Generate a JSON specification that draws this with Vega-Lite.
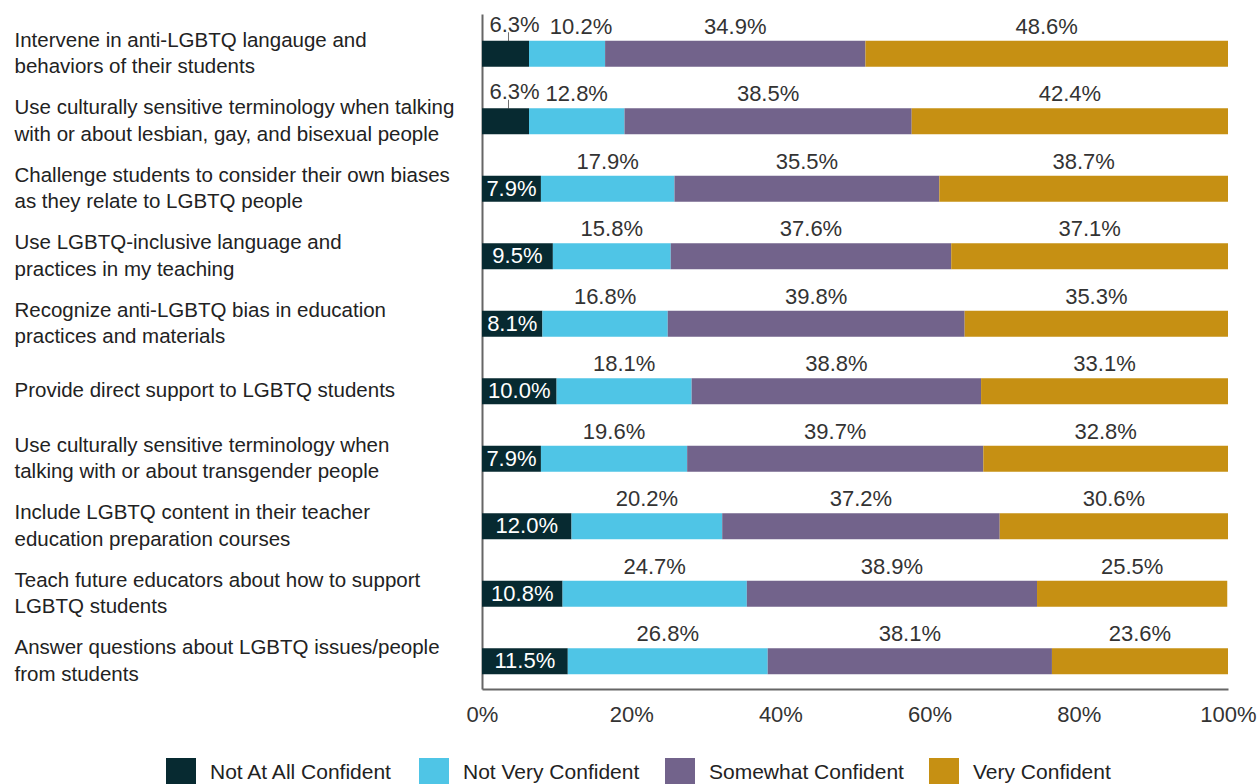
{
  "$schema": "https://vega.github.io/schema/vega-lite/v6.json",
  "width": 746,
  "height": 675,
  "autosize": {"type": "none"},
  "padding": {"left": 482, "top": 14, "right": 29, "bottom": 95},
  "background": "white",
  "config": {"view": {"stroke": null}, "font": "Liberation Sans"},
  "data": {"values": [
    {"item": "Intervene in anti-LGBTQ langauge and|behaviors of their students", "cat": "Not At All Confident", "value": 6.3},
    {"item": "Intervene in anti-LGBTQ langauge and|behaviors of their students", "cat": "Not Very Confident", "value": 10.2},
    {"item": "Intervene in anti-LGBTQ langauge and|behaviors of their students", "cat": "Somewhat Confident", "value": 34.9},
    {"item": "Intervene in anti-LGBTQ langauge and|behaviors of their students", "cat": "Very Confident", "value": 48.6},
    {"item": "Use culturally sensitive terminology when talking|with or about lesbian, gay, and bisexual people", "cat": "Not At All Confident", "value": 6.3},
    {"item": "Use culturally sensitive terminology when talking|with or about lesbian, gay, and bisexual people", "cat": "Not Very Confident", "value": 12.8},
    {"item": "Use culturally sensitive terminology when talking|with or about lesbian, gay, and bisexual people", "cat": "Somewhat Confident", "value": 38.5},
    {"item": "Use culturally sensitive terminology when talking|with or about lesbian, gay, and bisexual people", "cat": "Very Confident", "value": 42.4},
    {"item": "Challenge students to consider their own biases|as they relate to LGBTQ people", "cat": "Not At All Confident", "value": 7.9},
    {"item": "Challenge students to consider their own biases|as they relate to LGBTQ people", "cat": "Not Very Confident", "value": 17.9},
    {"item": "Challenge students to consider their own biases|as they relate to LGBTQ people", "cat": "Somewhat Confident", "value": 35.5},
    {"item": "Challenge students to consider their own biases|as they relate to LGBTQ people", "cat": "Very Confident", "value": 38.7},
    {"item": "Use LGBTQ-inclusive language and|practices in my teaching", "cat": "Not At All Confident", "value": 9.5},
    {"item": "Use LGBTQ-inclusive language and|practices in my teaching", "cat": "Not Very Confident", "value": 15.8},
    {"item": "Use LGBTQ-inclusive language and|practices in my teaching", "cat": "Somewhat Confident", "value": 37.6},
    {"item": "Use LGBTQ-inclusive language and|practices in my teaching", "cat": "Very Confident", "value": 37.1},
    {"item": "Recognize anti-LGBTQ bias in education|practices and materials", "cat": "Not At All Confident", "value": 8.1},
    {"item": "Recognize anti-LGBTQ bias in education|practices and materials", "cat": "Not Very Confident", "value": 16.8},
    {"item": "Recognize anti-LGBTQ bias in education|practices and materials", "cat": "Somewhat Confident", "value": 39.8},
    {"item": "Recognize anti-LGBTQ bias in education|practices and materials", "cat": "Very Confident", "value": 35.3},
    {"item": "Provide direct support to LGBTQ students", "cat": "Not At All Confident", "value": 10.0},
    {"item": "Provide direct support to LGBTQ students", "cat": "Not Very Confident", "value": 18.1},
    {"item": "Provide direct support to LGBTQ students", "cat": "Somewhat Confident", "value": 38.8},
    {"item": "Provide direct support to LGBTQ students", "cat": "Very Confident", "value": 33.1},
    {"item": "Use culturally sensitive terminology when|talking with or about transgender people", "cat": "Not At All Confident", "value": 7.9},
    {"item": "Use culturally sensitive terminology when|talking with or about transgender people", "cat": "Not Very Confident", "value": 19.6},
    {"item": "Use culturally sensitive terminology when|talking with or about transgender people", "cat": "Somewhat Confident", "value": 39.7},
    {"item": "Use culturally sensitive terminology when|talking with or about transgender people", "cat": "Very Confident", "value": 32.8},
    {"item": "Include LGBTQ content in their teacher|education preparation courses", "cat": "Not At All Confident", "value": 12.0},
    {"item": "Include LGBTQ content in their teacher|education preparation courses", "cat": "Not Very Confident", "value": 20.2},
    {"item": "Include LGBTQ content in their teacher|education preparation courses", "cat": "Somewhat Confident", "value": 37.2},
    {"item": "Include LGBTQ content in their teacher|education preparation courses", "cat": "Very Confident", "value": 30.6},
    {"item": "Teach future educators about how to support|LGBTQ students", "cat": "Not At All Confident", "value": 10.8},
    {"item": "Teach future educators about how to support|LGBTQ students", "cat": "Not Very Confident", "value": 24.7},
    {"item": "Teach future educators about how to support|LGBTQ students", "cat": "Somewhat Confident", "value": 38.9},
    {"item": "Teach future educators about how to support|LGBTQ students", "cat": "Very Confident", "value": 25.5},
    {"item": "Answer questions about LGBTQ issues/people|from students", "cat": "Not At All Confident", "value": 11.5},
    {"item": "Answer questions about LGBTQ issues/people|from students", "cat": "Not Very Confident", "value": 26.8},
    {"item": "Answer questions about LGBTQ issues/people|from students", "cat": "Somewhat Confident", "value": 38.1},
    {"item": "Answer questions about LGBTQ issues/people|from students", "cat": "Very Confident", "value": 23.6}
  ]},
  "transform": [
    {"calculate": "indexof(['Not At All Confident','Not Very Confident','Somewhat Confident','Very Confident'], datum.cat)", "as": "k"},
    {"stack": "value", "groupby": ["item"], "sort": [{"field": "k", "order": "ascending"}], "as": ["x0", "x1"]},
    {"calculate": "(datum.x0 + datum.x1) / 2", "as": "mid"},
    {"calculate": "format(datum.value, '.1f') + '%'", "as": "lbl"}
  ],
  "encoding": {
    "y": {
      "field": "item", "type": "nominal", "sort": null,
      "scale": {"paddingInner": 0, "paddingOuter": 0},
      "axis": {
        "title": null, "domain": true, "domainColor": "#666666", "domainWidth": 2,
        "ticks": false, "tickSize": 0, "labelAlign": "left", "labelPadding": 468,
        "labelExpr": "split(datum.value, '|')", "labelFontSize": 20.5, "labelColor": "#222222",
        "labelLineHeight": 26.5,
        "labelOffset": {"condition": {"test": "indexof(datum.value, '|') >= 0", "value": -7}, "value": 6},
        "labelBaseline": "middle", "labelLimit": 0
      }
    }
  },
  "layer": [
    {
      "mark": {"type": "bar", "height": 26, "yOffset": 6},
      "encoding": {
        "x": {
          "field": "x0", "type": "quantitative", "scale": {"domain": [0, 100], "nice": false},
          "axis": {
            "title": null, "grid": false, "ticks": false, "domainColor": "#666666", "domainWidth": 2,
            "values": [0, 20, 40, 60, 80, 100], "labelExpr": "datum.value + '%'",
            "labelFontSize": 22, "labelColor": "#333333", "labelPadding": 15, "labelFlush": false
          }
        },
        "x2": {"field": "x1"},
        "color": {
          "field": "cat", "type": "nominal",
          "scale": {
            "domain": ["Not At All Confident", "Not Very Confident", "Somewhat Confident", "Very Confident"],
            "range": ["#072a31", "#4fc5e6", "#72638b", "#c69013"]
          },
          "legend": {
            "title": null, "orient": "none", "legendX": -316, "legendY": 744,
            "direction": "horizontal", "symbolType": "square", "symbolSize": 900,
            "symbolStrokeWidth": 0, "symbolOpacity": 1, "labelFontSize": 21, "labelColor": "#222222",
            "labelOffset": 14, "columnPadding": 25, "padding": 0, "labelLimit": 0
          }
        }
      }
    },
    {
      "transform": [{"filter": "datum.k > 0 && !(datum.k == 1 && datum.x0 < 7 && datum.value < 11)"}],
      "mark": {"type": "text", "yOffset": -21, "fontSize": 22, "color": "#333333", "baseline": "middle"},
      "encoding": {
        "x": {"field": "mid", "type": "quantitative"},
        "text": {"field": "lbl"}
      }
    },
    {
      "transform": [{"filter": "datum.k == 1 && datum.x0 < 7 && datum.value < 11"}],
      "mark": {"type": "text", "yOffset": -21, "dx": 14, "fontSize": 22, "color": "#333333", "baseline": "middle"},
      "encoding": {
        "x": {"field": "mid", "type": "quantitative"},
        "text": {"field": "lbl"}
      }
    },
    {
      "transform": [{"filter": "datum.k == 0 && datum.value < 7"}],
      "mark": {"type": "text", "yOffset": -23, "dx": 9, "fontSize": 22, "color": "#333333", "baseline": "middle"},
      "encoding": {
        "x": {"field": "mid", "type": "quantitative"},
        "text": {"field": "lbl"}
      }
    },
    {
      "transform": [{"filter": "datum.k == 0 && datum.value < 7"}],
      "mark": {"type": "tick", "orient": "vertical", "size": 9, "thickness": 1, "color": "#333333", "yOffset": -11, "xOffset": 3},
      "encoding": {
        "x": {"field": "mid", "type": "quantitative"}
      }
    },
    {
      "transform": [{"filter": "datum.k == 0 && datum.value >= 7"}],
      "mark": {"type": "text", "yOffset": 6, "fontSize": 22, "color": "white", "baseline": "middle"},
      "encoding": {
        "x": {"field": "mid", "type": "quantitative"},
        "text": {"field": "lbl"}
      }
    }
  ]
}
